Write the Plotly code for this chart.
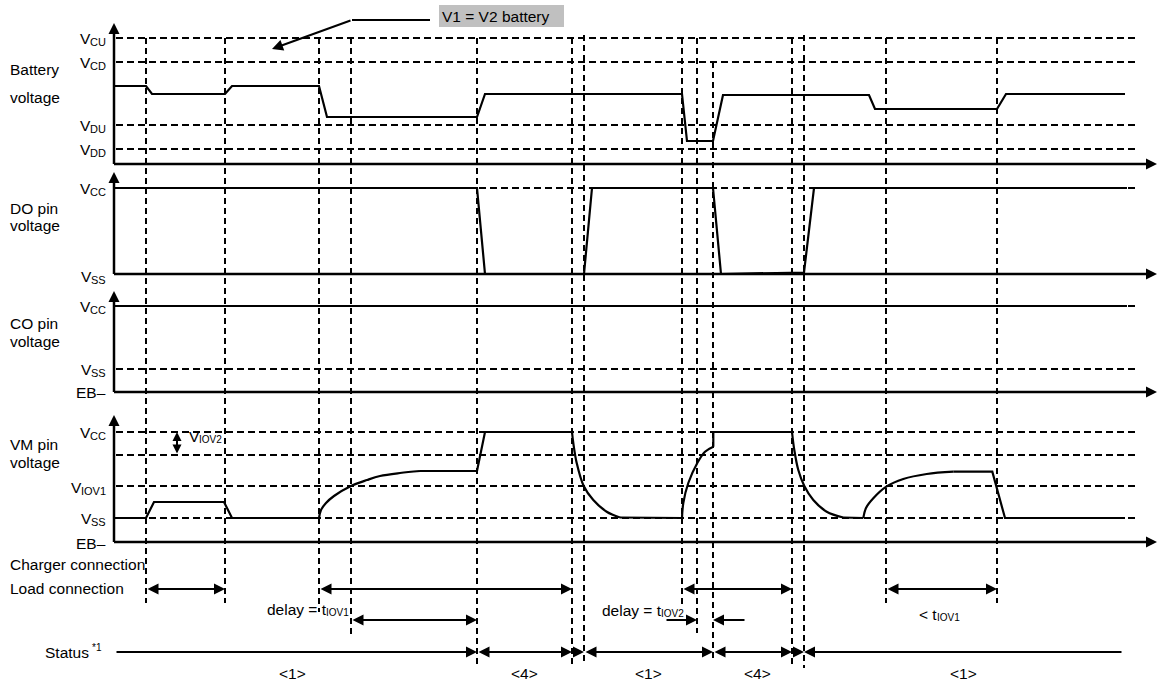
import plotly.graph_objects as go

FONT = "Liberation Sans, Arial, sans-serif"
FS = 15.5
SUB = 11
INK = "black"

# ---------------- data (diagram units: time -> x, level -> y) ----------------
event_times = [146, 225, 319, 351, 477, 572, 584, 682, 697, 713, 792, 804, 886, 997]
event_top = [38, 38, 38, 38, 38, 38, 35, 38, 38, 62, 38, 35, 38, 38]
event_bottom = [603, 603, 612, 637, 668, 668, 665, 605, 633, 660, 668, 668, 603, 603]

t_start, t_dash_end, t_axis_end = 114, 1137, 1157

# Battery panel
battery_levels = [38, 62, 125, 149]
battery_level_subs = ["CU", "CD", "DU", "DD"]
battery_t = [114, 146, 152, 225, 232, 319, 327, 477, 485, 682, 687, 713, 723, 869, 875, 997, 1006, 1125]
battery_v = [86, 86, 94, 94, 86, 86, 117, 117, 94, 94, 141, 141, 95, 95, 109, 109, 94, 94]

# DO panel
do_levels = [188]
do_level_subs = ["CC", "SS"]
do_label_y = [188, 276]
do_t = [114, 477, 485, 584, 592, 713, 721, 804, 814, 1127]
do_v = [188, 188, 274, 274, 188, 188, 274, 272.5, 188, 188]

# CO panel
co_levels = [306, 369]
co_level_subs = ["CC", "SS"]
co_label_y = [306, 369]
co_t = [114, 1127]
co_v = [306, 306]

# VM panel
vm_levels = [432, 455, 486, 518]
vm_level_subs = ["CC", "IOV1", "SS"]
vm_label_y = [432, 487, 518]
vm_t = [114, 146, 154, 224, 232, 319,
        321, 326, 334, 351, 367, 380, 400, 420, 477,
        485, 572,
        573.3, 576.7, 583.7, 593.3, 606.7, 620, 682,
        683.3, 688.3, 697.3, 705, 713.3,
        713.3, 792,
        794.3, 798.3, 804.3, 813.3, 826.7, 843.3, 863.3,
        866, 873.3, 886.3, 903.3, 926.7, 953.3, 992.3,
        1005, 1125]
vm_v = [518, 518, 502, 502, 518, 518,
        510, 503, 496, 486, 480, 476, 473, 471, 471,
        432, 432,
        443, 463, 486, 500, 511.7, 517.5, 518,
        503, 483, 463, 451.7, 446.7,
        432, 432,
        450, 470, 486, 500, 511.7, 517.5, 518,
        508, 498.3, 486.7, 479, 474, 471.7, 471.7,
        518, 518]
# index ranges of the VM trace that are exponential (curved) rather than straight
vm_curved = [(5, 13), (16, 22), (23, 28), (30, 36), (37, 43)]

# Panel axes: (top of y-axis arrow, y of time axis)
panel_axes = [(23, 164), (172, 274), (291, 392), (415, 542)]
panel_titles = [("Battery", 69), ("voltage", 97), ("DO pin", 208), ("voltage", 225),
                ("CO pin", 323), ("voltage", 341), ("VM pin", 444), ("voltage", 462)]
eb_label_y = [392, 543]

# Interval arrows
load_intervals = [(146, 225), (319, 572), (682, 792), (886, 997)]
delay1_interval = (351, 477)
delay2_arrows = [(665, 697), (746, 713)]
status_segments = [(115, 477, "end"), (477, 572, "both"), (572, 584, "end"),
                   (584, 713, "both"), (713, 792, "both"), (792, 804, "end"),
                   (1123, 804, "end")]
status_labels = ["<1>", "<4>", "<1>", "<4>", "<1>"]
status_label_x = [292, 524, 648, 757, 963]

# ---------------- helpers ----------------
fig = go.Figure()
shapes = []
annotations = []

# Arial / Liberation Sans advance widths (em)
W = {'V': .667, 'C': .722, 'U': .722, 'D': .722, 'S': .667, 'I': .278, 'O': .778,
     '1': .556, '2': .556, 'd': .556, 'e': .556, 'l': .222, 'a': .556, 'y': .5,
     ' ': .278, '=': .584, 't': .278, '<': .584, '*': .389, 'u': .556, 's': .5}


def tw(s, size):
    return sum(W.get(c, .556) for c in s) * size


def esc(s):
    return s.replace("&", "&amp;").replace("<", "&lt;").replace(">", "&gt;")


def hline(y, x0, x1, dash=None, width=2):
    shapes.append(dict(type="line", x0=x0, x1=x1, y0=y, y1=y, xref="x", yref="y", layer="below",
                       line=dict(color=INK, width=width, dash=dash or "solid")))


def vline(x, y0, y1, dash=None, width=2):
    shapes.append(dict(type="line", x0=x, x1=x, y0=y0, y1=y1, xref="x", yref="y", layer="below",
                       line=dict(color=INK, width=width, dash=dash or "solid")))


def arrow(x0, y0, x1, y1, both=False, width=2, size=1.1):
    annotations.append(dict(x=x1, y=y1, ax=x0, ay=y0, xref="x", yref="y", axref="x", ayref="y",
                            text="", showarrow=True, arrowhead=2, arrowsize=size, arrowwidth=width,
                            startarrowhead=2, startarrowsize=size,
                            arrowcolor=INK, arrowside="end+start" if both else "end",
                            standoff=0, startstandoff=0))


def text(x, y, s, anchor="left", size=FS):
    annotations.append(dict(x=x, y=y, xref="x", yref="y", text=esc(s), showarrow=False,
                            xanchor=anchor, yanchor="middle", borderpad=0, borderwidth=0,
                            font=dict(family=FONT, size=size, color=INK)))


def rich(x, y, base, sub, anchor="left", dy=3.5, size=SUB):
    bw, sw = tw(base, FS), tw(sub, size)
    x0 = x - bw - sw if anchor == "right" else x
    text(x0, y, base)
    text(x0 + bw, y + dy, sub, size=size)


def wave(tt, vv, shape="linear"):
    fig.add_trace(go.Scatter(x=tt, y=vv, mode="lines",
                             line=dict(color=INK, width=2.2, shape=shape, smoothing=1.0),
                             hoverinfo="skip", showlegend=False))


DASH = "7px,4px"

# dashed level lines
for y in battery_levels + do_levels + co_levels + vm_levels:
    hline(y, t_start + 2, t_dash_end, dash=DASH)

# dashed event lines
for x, y0, y1 in zip(event_times, event_top, event_bottom):
    vline(x, y0, y1, dash="6px,4px")

# panel axes
for top, base in panel_axes:
    vline(t_start, top + 6, base, width=2.5)
    hline(base, t_start, t_axis_end - 6, width=2.5)
    arrow(t_start, top + 12, t_start, top, width=2.2, size=1.0)
    arrow(t_axis_end - 14, base, t_axis_end, base, width=2.2, size=1.0)

# waveforms
for tt, vv in [(battery_t, battery_v), (do_t, do_v), (co_t, co_v)]:
    wave(tt, vv)

# VM: straight pieces linear, exponential pieces smoothed
prev = 0
for a, b in vm_curved:
    wave(vm_t[prev:a + 1], vm_v[prev:a + 1])
    wave(vm_t[a:b + 1], vm_v[a:b + 1], shape="spline")
    prev = b
wave(vm_t[prev:], vm_v[prev:])

# panel titles
for s, y in panel_titles:
    text(10, y, s)

# level labels
LX = 106
for sub, y in zip(battery_level_subs, battery_levels):
    rich(LX, y, "V", sub, anchor="right")
for sub, y in zip(do_level_subs, do_label_y):
    rich(LX, y, "V", sub, anchor="right")
for sub, y in zip(co_level_subs, co_label_y):
    rich(LX, y, "V", sub, anchor="right")
for sub, y in zip(vm_level_subs, vm_label_y):
    rich(LX, y, "V", sub, anchor="right")
for y in eb_label_y:
    text(LX, y, "EB–", anchor="right")

# V_IOV2 marker
arrow(177, 455, 177, 432, both=True, width=2, size=0.9)
rich(189, 436, "V", "IOV2", size=10)

# "V1 = V2 battery" callout
shapes.append(dict(type="rect", x0=439, x1=564, y0=5, y1=27, xref="x", yref="y", layer="below",
                   fillcolor="#c0c0c0", line=dict(width=0)))
text(442, 16, "V1 = V2 battery")
fig.add_trace(go.Scatter(x=[430, 352], y=[20, 20], mode="lines", line=dict(color=INK, width=2),
                         hoverinfo="skip", showlegend=False))
arrow(352, 20, 272, 49, width=2, size=1.1)

# connection / timing rows
text(10, 564, "Charger connection")
text(10, 588, "Load connection")
for a, b in load_intervals:
    arrow(a, 589, b, 589, both=True)
arrow(delay1_interval[0], 620, delay1_interval[1], 620, both=True)
rich(349, 609, "delay = t", "IOV1", anchor="right", size=10)
for a, b in delay2_arrows:
    arrow(a, 620, b, 620)
rich(602, 610, "delay = t", "IOV2", size=10)
rich(919, 614, "< t", "IOV1", size=10)

# status row
text(45, 652, "Status")
text(92, 647, "*1", size=10)
for a, b, kind in status_segments:
    arrow(a, 652, b, 652, both=(kind == "both"))
for s, x in zip(status_labels, status_label_x):
    text(x, 673, s, anchor="center")

fig.update_layout(
    width=1161, height=686,
    margin=dict(l=0, r=0, t=0, b=0),
    paper_bgcolor="white", plot_bgcolor="white",
    xaxis=dict(range=[0, 1161], visible=False, fixedrange=True),
    yaxis=dict(range=[686, 0], visible=False, fixedrange=True),
    shapes=shapes, annotations=annotations, showlegend=False,
    font=dict(family=FONT, size=FS, color=INK),
)

fig.write_html("out.html", config={"displayModeBar": False},
               post_script="document.body.style.margin='0';")
